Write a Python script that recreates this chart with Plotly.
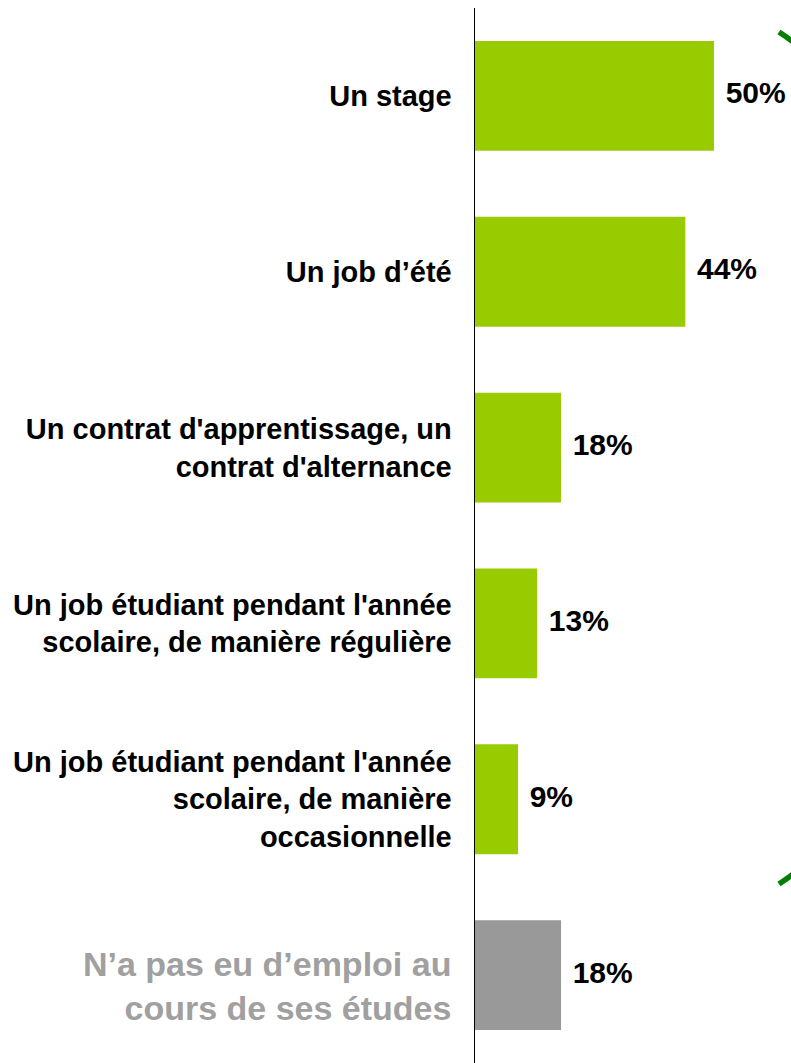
import numpy as np
import plotly.graph_objects as go

categories = [
    "Un stage",
    "Un job d’été",
    "Un contrat d'apprentissage, un<br>contrat d'alternance",
    "Un job étudiant pendant l'année<br>scolaire, de manière régulière",
    "Un job étudiant pendant l'année<br>scolaire, de manière<br>occasionnelle",
    "N’a pas eu d’emploi au<br>cours de ses études",
]
values = [50, 44, 18, 13, 9, 18]
value_labels = ["50%", "44%", "18%", "13%", "9%", "18%"]
bar_colors = ["#99CC00"] * 5 + ["#999999"]

W, H = 791, 1063
L, R, T, B = 475, 0, 8, 0
FONT = "Liberation Sans, Arial, sans-serif"

tick_text = categories[:-1] + [""]

fig = go.Figure()
fig.add_trace(go.Bar(
    y=categories, x=values, orientation="h",
    marker=dict(color=bar_colors, line=dict(width=0)),
    width=0.625, hoverinfo="skip", showlegend=False,
))
fig.add_trace(go.Scatter(
    y=categories, x=values, mode="markers+text",
    text=value_labels, textposition="middle right",
    marker=dict(size=17, opacity=0),
    textfont=dict(family=FONT, size=30, color="#000000", weight="bold"),
    hoverinfo="skip", showlegend=False, cliponaxis=False,
))

# last category label (grey, larger) as an annotation tied to the category axis
fig.add_annotation(
    x=0, y=categories[-1], xref="x", yref="y",
    text=categories[-1], showarrow=False,
    xanchor="right", yanchor="middle", align="right",
    xshift=-22, yshift=-11,
    font=dict(family=FONT, size=34, color="#A0A0A0", weight="bold"),
)

# decorative green bracket on the right (arc of a circle), px -> paper coords
cx, cy, r = 495.0, 458.0, 512.0
a0 = np.arctan2(32 - cy, 779 - cx)
a1 = np.arctan2(884 - cy, 779 - cx)
angs = np.linspace(a0, a1, 120)
pw, ph = W - L - R, H - T - B
pts = [((cx + r * np.cos(a) - L) / pw, (H - B - (cy + r * np.sin(a))) / ph) for a in angs]
path = "M " + " L ".join(f"{x:.4f},{y:.4f}" for x, y in pts)
fig.add_shape(type="path", path=path, xref="paper", yref="paper",
              line=dict(color="#008000", width=5.5), layer="above")

fig.update_layout(
    width=W, height=H,
    margin=dict(l=L, r=R, t=T, b=B, pad=0),
    paper_bgcolor="white", plot_bgcolor="white",
    font=dict(family=FONT, color="#000000"),
)
fig.update_xaxes(range=[0, 66.1], visible=False, fixedrange=True)
fig.update_yaxes(
    categoryorder="array", categoryarray=categories,
    autorange=False, range=[5.5, -0.5],
    tickvals=categories, ticktext=tick_text,
    showline=True, linecolor="#000000", linewidth=1.5,
    showgrid=False, zeroline=False, ticks="",
    ticklabelstandoff=16, fixedrange=True,
    tickfont=dict(family=FONT, size=29, color="#000000", weight="bold"),
)

fig.write_html(
    "out.html",
    config={"displayModeBar": False, "staticPlot": True},
    post_script="document.body.style.margin='0px';document.documentElement.style.overflow='hidden';",
)
